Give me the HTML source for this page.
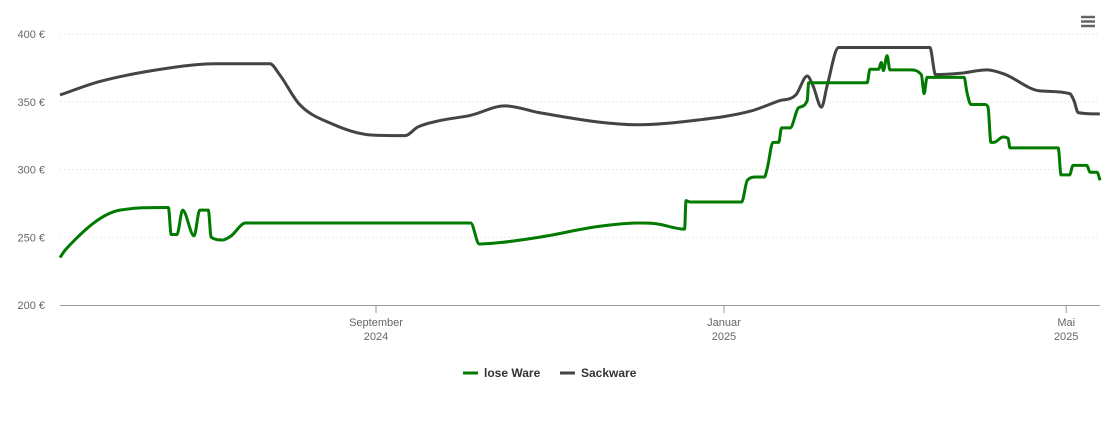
<!DOCTYPE html>
<html><head><meta charset="utf-8"><style>
body{margin:0;background:#fff;font-family:"Liberation Sans",sans-serif;}
svg text{font-family:"Liberation Sans",sans-serif;}
</style></head><body>
<svg id="chart" width="1110" height="423" viewBox="0 0 1110 423">
<g id="grid"></g>
<g id="yaxis"></g>
<g id="xaxis"></g>
<g id="series"></g>
<g stroke="#666" stroke-width="2.5">
<line x1="1081" y1="17" x2="1095" y2="17"/><line x1="1081" y1="21.5" x2="1095" y2="21.5"/><line x1="1081" y1="26" x2="1095" y2="26"/>
</g>
<g font-size="12" font-weight="bold" fill="#333">
<g><line x1="463" y1="373" x2="478" y2="373" stroke="#007a00" stroke-width="3"/><text x="484" y="377">lose Ware</text></g>
<g><line x1="560" y1="373" x2="575" y2="373" stroke="#444" stroke-width="3"/><text x="581" y="377">Sackware</text></g>
</g>
</svg>
<script>
const yTicks=[200,250,300,350,400];
const xTickDays=[110.8,232.8,352.8];
const xTickLabels=[["September","2024"],["Januar","2025"],["Mai","2025"]];
const looseDays=[0,2,21,37,38,39,41,43,47,49,52,53,57,60,65,144,147,154,168,189,203,209,219,219.5,221,239,241,244,247,248,250,252,253,256,259,262,262.5,283,284,287,288,288.7,290,291,298,302,303,304,307,316,317,318,319.4,324.3,325.4,326.4,327.5,330.6,332.4,333.1,350,351,354,355.2,360,361.2,363.6,364.7];
const looseVals=[235,241,270,272,272,252,252,270,251,270,270,250,248,251,260.5,260.5,245,246,250,258,260.5,260,256,277,276,276,292,294.5,294.5,301,320,320,330.7,330.7,345.6,351,364,364,374,374,379,373,384,373.5,373.5,370,356,368,368,368,368,357,348,348,346,320,320,324,323,316,316,296,296,303,303,298,298,292];
const sackDays=[0,14,38.6,54,73.6,77,84,95,109,121,125.5,133,144,156,168,189,203,224,242,252,258,262,264,267,269,273,305,307,315.6,325,331,343.6,354,355.5,357,364.6];
const sackVals=[355,365,375,378,378,370,348,334,325.5,325,331.4,336,340,347,342,335,333,336.6,343,350.6,355,369,362,346,362,390,390,370,371,373.5,370.5,358,356,351,342,341];
const X0=60,PXD=2.852,Y0=305,PXV=271/200;
const xs=d=>X0+d*PXD, ys=v=>Y0-(v-200)*PXV;
const NS="http://www.w3.org/2000/svg";
function mk(t,a,p){const e=document.createElementNS(NS,t);for(const k in a)e.setAttribute(k,a[k]);p.appendChild(e);return e;}
const grid=document.getElementById('grid'),ya=document.getElementById('yaxis'),xa=document.getElementById('xaxis'),ser=document.getElementById('series');
yTicks.forEach(v=>{
 if(v>200){const l=mk('line',{x1:60,x2:1100,y1:ys(v),y2:ys(v),stroke:'#ddd','stroke-dasharray':'1,3'},grid);
 
 }
 const t=mk('text',{x:45,y:ys(v)+4,'text-anchor':'end','font-size':11,fill:'#666'},ya);t.textContent=v+' €';
 
 
});
const ax=mk('line',{x1:60,x2:1100,y1:305.5,y2:305.5,stroke:'#999'},xa);


xTickDays.forEach((d,i)=>{
 const x=xs(d);
 const tk=mk('line',{x1:x,x2:x,y1:305,y2:313,stroke:'#999'},xa);
 
 
 xTickLabels[i].forEach((s,j)=>{const t=mk('text',{x:x,y:326+j*14,'text-anchor':'middle','font-size':11,fill:'#666'},xa);t.textContent=s;
 
 });
});
function monoPath(dx,dv){
 const P=dx.map((d,i)=>[xs(d),ys(dv[i])]);const n=P.length;const m=[],s=[];
 for(let i=0;i<n-1;i++)s.push((P[i+1][1]-P[i][1])/(P[i+1][0]-P[i][0]||1e-6));
 for(let i=0;i<n;i++){if(i==0)m.push(s[0]);else if(i==n-1)m.push(s[n-2]);else m.push(s[i-1]*s[i]<=0?0:(s[i-1]+s[i])/2);}
 for(let i=0;i<n-1;i++){if(s[i]==0){m[i]=0;m[i+1]=0;continue;}const a=m[i]/s[i],b=m[i+1]/s[i],h=a*a+b*b;if(h>9){const t=3/Math.sqrt(h);m[i]=t*a*s[i];m[i+1]=t*b*s[i];}}
 let d='M'+P[0][0]+','+P[0][1];
 for(let i=0;i<n-1;i++){const h=(P[i+1][0]-P[i][0])/3;d+=` C${P[i][0]+h},${P[i][1]+m[i]*h} ${P[i+1][0]-h},${P[i+1][1]-m[i+1]*h} ${P[i+1][0]},${P[i+1][1]}`;}
 return d;}
const sp=mk('path',{d:monoPath(sackDays,sackVals),fill:'none',stroke:'#444','stroke-width':3,'stroke-linejoin':'round'},ser);


const lp=mk('path',{d:monoPath(looseDays,looseVals),fill:'none',stroke:'#007a00','stroke-width':3,'stroke-linejoin':'round'},ser);


</script>
</body></html>
